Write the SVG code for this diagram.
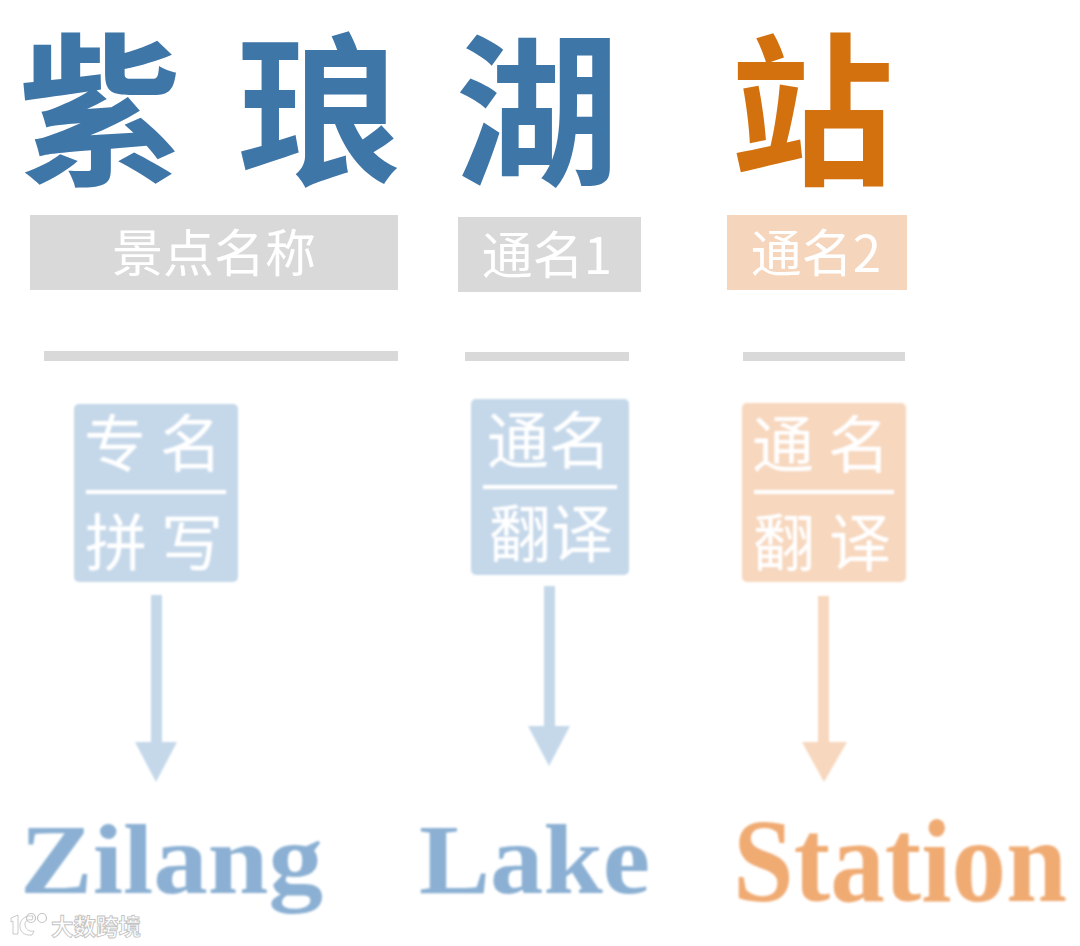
<svg xmlns="http://www.w3.org/2000/svg" width="1080" height="946" viewBox="0 0 1080 946">
<defs><filter id="b" x="-5%" y="-5%" width="110%" height="110%"><feGaussianBlur stdDeviation="0.8"/></filter></defs>
<style>
.t{font-family:"Noto Sans CJK SC",serif;font-weight:700;font-size:164px}
.h{font-family:"Noto Sans CJK SC",sans-serif;font-size:51px;fill:#fff;text-anchor:middle}
.c{font-family:"Noto Sans CJK SC",sans-serif;font-size:62px;fill:#fff;text-anchor:middle}
.e{font-family:"Liberation Serif",serif;font-weight:700}
.k{fill:#fff;stroke:#c4c4c4;stroke-width:0.9}
.o{fill:none;stroke:#c4c4c4;stroke-width:1.2}
</style>
<rect width="1080" height="946" fill="#fff"/>
<g id="title">
<text class="t" x="18" y="172" fill="#3f76a8">紫</text>
<text class="t" x="237" y="172" fill="#3f76a8">琅</text>
<text class="t" x="455" y="172" fill="#3f76a8">湖</text>
<text class="t" x="730" y="172" fill="#d4710f">站</text>
</g>
<g id="label-name"><rect x="30" y="215" width="368" height="75" fill="#d9d9d9"/><text class="h" x="214" y="272">景点名称</text></g>
<g id="label-1"><rect x="458" y="217" width="183" height="75" fill="#d9d9d9"/><text class="h" x="547" y="274">通名1</text></g>
<g id="label-2"><rect x="727" y="215" width="180" height="75" fill="#f5d5bb"/><text class="h" x="816" y="272">通名2</text></g>
<g id="rules" fill="#d9d9d9"><rect x="44" y="351" width="354" height="10"/><rect x="465" y="352" width="164" height="9"/><rect x="743" y="352" width="162" height="9"/></g>
<g id="box-1" filter="url(#b)"><rect x="74" y="404" width="164" height="178" rx="5" fill="#c5d8ea"/><text class="c" x="153" y="467">专 名</text><rect x="86" y="490" width="140" height="4" fill="#fff"/><text class="c" x="154" y="566">拼 写</text></g>
<g id="box-2" filter="url(#b)"><rect x="471" y="399" width="158" height="176" rx="5" fill="#c5d8ea"/><text class="c" x="549" y="464">通名</text><rect x="483" y="485" width="134" height="4" fill="#fff"/><text class="c" x="551" y="557">翻译</text></g>
<g id="box-3" filter="url(#b)"><rect x="742" y="403" width="164" height="179" rx="5" fill="#f7d7bd"/><text class="c" x="821" y="468">通 名</text><rect x="754" y="490" width="140" height="4" fill="#fff"/><text class="c" x="822" y="566">翻 译</text></g>
<g id="connectors" filter="url(#b)">
<path d="M151 595h11v147h15l-21 40-21-40h16z" fill="#c5d8ea"/>
<path d="M544 586h11v140h15l-21 40-21-40h16z" fill="#c5d8ea"/>
<path d="M818 596h11v146h18l-23 40-22-40h16z" fill="#f7d7bd"/>
</g>
<g id="words" filter="url(#b)">
<text class="e" x="20" y="893" font-size="100" fill="#8bb0d3" textLength="303" lengthAdjust="spacingAndGlyphs">Zilang</text>
<text class="e" x="419" y="893" font-size="100" fill="#8bb0d3" textLength="231" lengthAdjust="spacingAndGlyphs">Lake</text>
<text class="e" x="733" y="901" font-size="118" fill="#f0ab73" textLength="334" lengthAdjust="spacingAndGlyphs">Station</text>
</g>
<g id="mark">
<path class="k" d="M11 918l7-3v19h-5v-13l-2 1zM33 916c-7-1-12 3-13 8-1 7 4 12 12 11l2-4c-5 1-9-2-9-7 0-3 3-5 7-4z"/>
<circle class="o" cx="31" cy="918" r="4.5"/>
<circle class="o" cx="42" cy="918" r="4.5"/>
<text x="51" y="935" font-family="Noto Sans CJK SC,sans-serif" font-size="22.5" font-weight="700" class="k">大数跨境</text>
</g>
</svg>
